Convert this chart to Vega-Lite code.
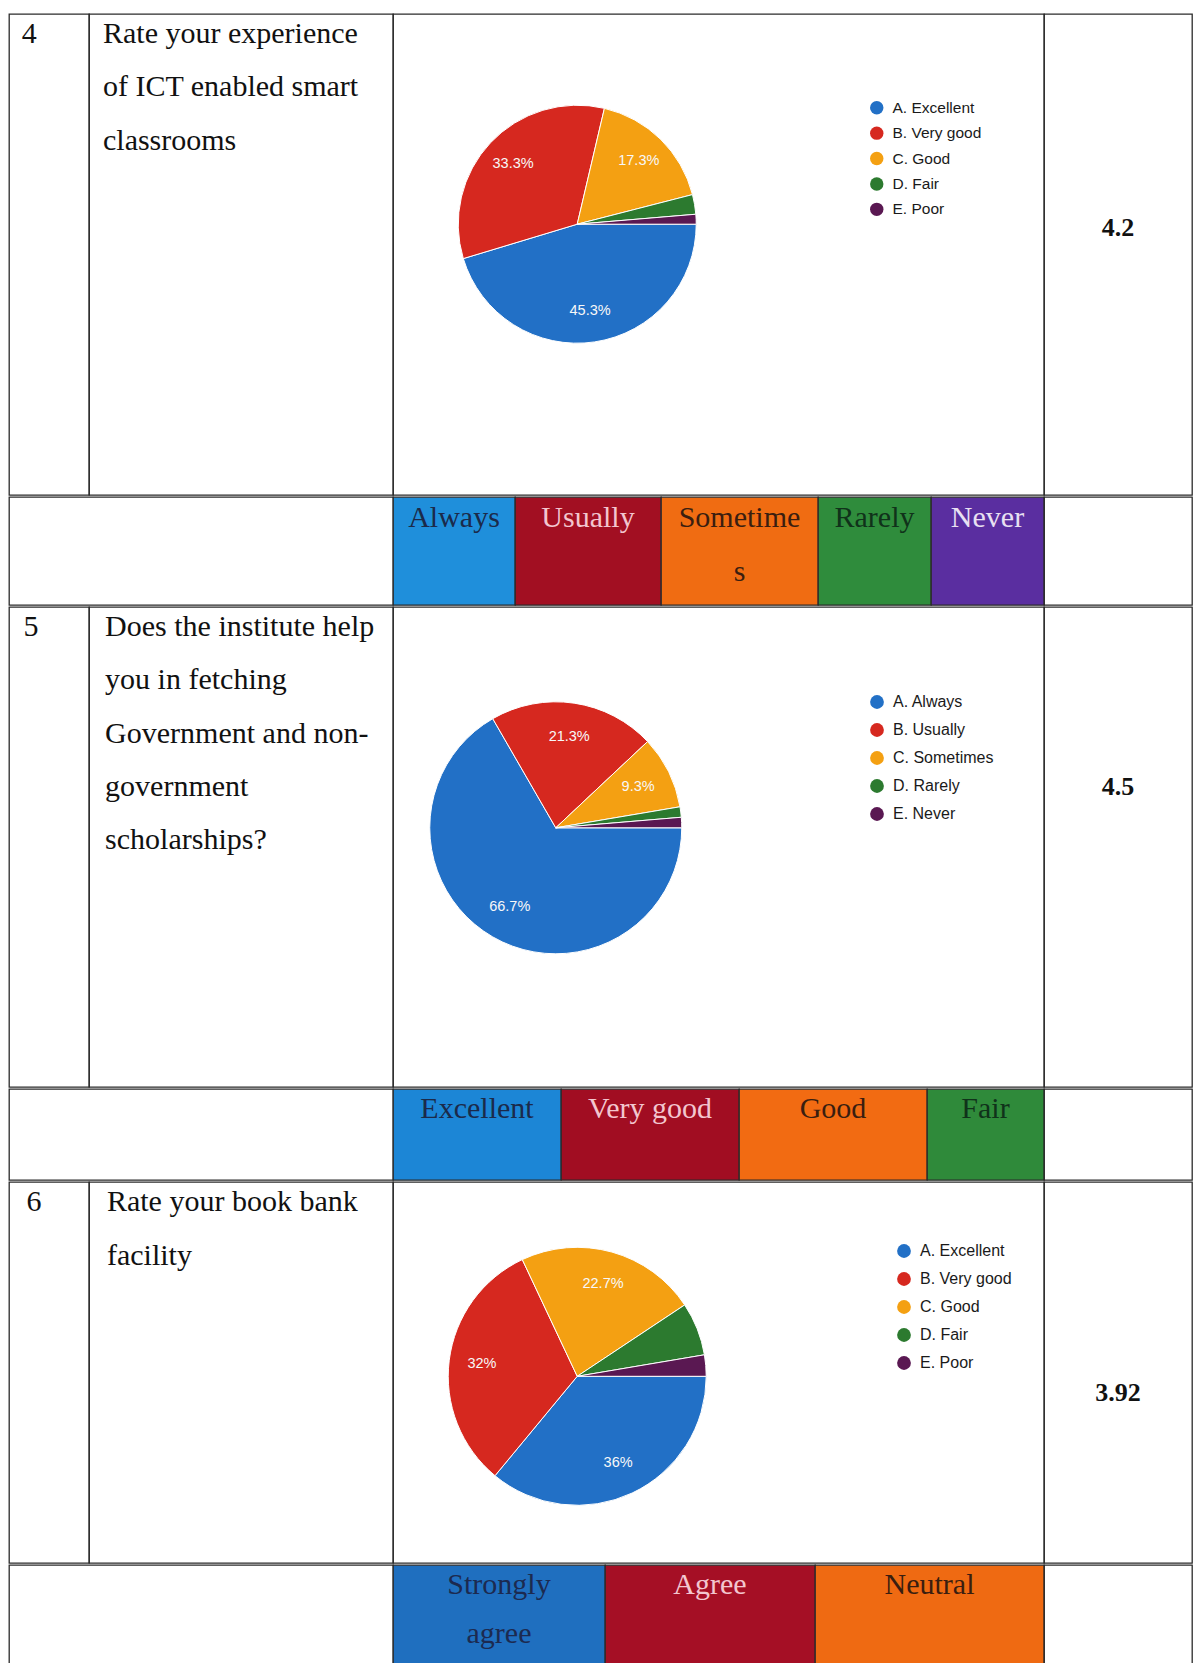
{
  "$schema": "https://vega.github.io/schema/vega-lite/v6.json",
  "background": "white",
  "padding": {"left": 8, "top": 13, "right": 0, "bottom": 0},
  "spacing": 0,
  "resolve": {"scale": {"color": "independent", "theta": "independent"}, "legend": {"color": "independent"}},
  "config": {
    "view": {"stroke": "#2b2b2b", "strokeWidth": 1.3},
    "concat": {"spacing": 0}
  },
  "datasets": {
    "cells": [
      {"q": "Q4", "col": "num", "line": 1, "text": "4"},
      {"q": "Q4", "col": "question", "line": 1, "text": "Rate your experience"},
      {"q": "Q4", "col": "question", "line": 2, "text": "of ICT enabled smart"},
      {"q": "Q4", "col": "question", "line": 3, "text": "classrooms"},
      {"q": "Q4", "col": "score", "line": 1, "text": "4.2"},
      {"q": "Q5", "col": "num", "line": 1, "text": "5"},
      {"q": "Q5", "col": "question", "line": 1, "text": "Does the institute help"},
      {"q": "Q5", "col": "question", "line": 2, "text": "you in fetching"},
      {"q": "Q5", "col": "question", "line": 3, "text": "Government and non-"},
      {"q": "Q5", "col": "question", "line": 4, "text": "government"},
      {"q": "Q5", "col": "question", "line": 5, "text": "scholarships?"},
      {"q": "Q5", "col": "score", "line": 1, "text": "4.5"},
      {"q": "Q6", "col": "num", "line": 1, "text": "6"},
      {"q": "Q6", "col": "question", "line": 1, "text": "Rate your book bank"},
      {"q": "Q6", "col": "question", "line": 2, "text": "facility"},
      {"q": "Q6", "col": "score", "line": 1, "text": "3.92"},
      {"q": "blank", "col": "blank", "line": 1, "text": ""}
    ],
    "bars": [
      {"bar": "h1", "cell": "Always", "line": 1, "text": "Always"},
      {"bar": "h1", "cell": "Usually", "line": 1, "text": "Usually"},
      {"bar": "h1", "cell": "Sometimes", "line": 1, "text": "Sometime"},
      {"bar": "h1", "cell": "Sometimes", "line": 2, "text": "s"},
      {"bar": "h1", "cell": "Rarely", "line": 1, "text": "Rarely"},
      {"bar": "h1", "cell": "Never", "line": 1, "text": "Never"},
      {"bar": "h2", "cell": "Excellent", "line": 1, "text": "Excellent"},
      {"bar": "h2", "cell": "Very good", "line": 1, "text": "Very good"},
      {"bar": "h2", "cell": "Good", "line": 1, "text": "Good"},
      {"bar": "h2", "cell": "Fair", "line": 1, "text": "Fair"},
      {"bar": "h3", "cell": "Strongly agree", "line": 1, "text": "Strongly"},
      {"bar": "h3", "cell": "Strongly agree", "line": 2, "text": "agree"},
      {"bar": "h3", "cell": "Agree", "line": 1, "text": "Agree"},
      {"bar": "h3", "cell": "Neutral", "line": 1, "text": "Neutral"}
    ],
    "p4": [
      {"q": "Q4", "opt": "A. Excellent", "n": 34, "label": "45.3%"},
      {"q": "Q4", "opt": "B. Very good", "n": 25, "label": "33.3%"},
      {"q": "Q4", "opt": "C. Good", "n": 13, "label": "17.3%"},
      {"q": "Q4", "opt": "D. Fair", "n": 2, "label": ""},
      {"q": "Q4", "opt": "E. Poor", "n": 1, "label": ""}
    ],
    "p5": [
      {"q": "Q5", "opt": "A. Always", "n": 50, "label": "66.7%"},
      {"q": "Q5", "opt": "B. Usually", "n": 16, "label": "21.3%"},
      {"q": "Q5", "opt": "C. Sometimes", "n": 7, "label": "9.3%"},
      {"q": "Q5", "opt": "D. Rarely", "n": 1, "label": ""},
      {"q": "Q5", "opt": "E. Never", "n": 1, "label": ""}
    ],
    "p6": [
      {"q": "Q6", "opt": "A. Excellent", "n": 27, "label": "36%"},
      {"q": "Q6", "opt": "B. Very good", "n": 24, "label": "32%"},
      {"q": "Q6", "opt": "C. Good", "n": 17, "label": "22.7%"},
      {"q": "Q6", "opt": "D. Fair", "n": 5, "label": ""},
      {"q": "Q6", "opt": "E. Poor", "n": 2, "label": ""}
    ]
  },
  "vconcat": [
    {
      "spacing": 0, "bounds": "flush",
      "resolve": {"scale": {"color": "independent"}},
      "hconcat": [
        {"width": 80, "height": 481, "data": {"name": "cells"},
          "transform": [{"filter": "datum.q == 'Q4' && datum.col == 'num'"}],
          "mark": {"type": "text", "font": "Liberation Serif", "fontSize": 30, "align": "left", "baseline": "middle", "color": "#111111"},
          "encoding": {
            "x": {"field": "q", "type": "nominal", "axis": null, "scale": {"type": "band", "paddingInner": 0, "paddingOuter": 0}, "bandPosition": 0.16},
            "y": {"field": "line", "type": "ordinal", "axis": null, "scale": {"type": "band", "domain": [1,2,3,4,5,6,7,8,9], "paddingInner": 0, "paddingOuter": 0}, "bandPosition": 0.375},
            "text": {"field": "text"}}},
        {"width": 304, "height": 481, "data": {"name": "cells"},
          "transform": [{"filter": "datum.q == 'Q4' && datum.col == 'question'"}],
          "mark": {"type": "text", "font": "Liberation Serif", "fontSize": 30, "align": "left", "baseline": "middle", "color": "#111111"},
          "encoding": {
            "x": {"field": "q", "type": "nominal", "axis": null, "scale": {"type": "band", "paddingInner": 0, "paddingOuter": 0}, "bandPosition": 0.046},
            "y": {"field": "line", "type": "ordinal", "axis": null, "scale": {"type": "band", "domain": [1,2,3,4,5,6,7,8,9], "paddingInner": 0, "paddingOuter": 0}, "bandPosition": 0.375},
            "text": {"field": "text"}}},
        {"width": 651, "height": 481, "data": {"name": "p4"},
          "encoding": {
            "x": {"field": "q", "type": "nominal", "axis": null, "scale": {"type": "band", "paddingInner": 0, "paddingOuter": 0}, "bandPosition": 0.283},
            "y": {"field": "q", "type": "nominal", "axis": null, "scale": {"type": "band", "paddingInner": 0, "paddingOuter": 0}, "bandPosition": 0.437},
            "theta": {"field": "n", "type": "quantitative", "stack": true, "scale": {"range": [1.5707963, 7.8539816]}},
            "order": {"field": "opt", "type": "nominal"},
            "color": {"field": "opt", "type": "nominal",
              "scale": {"range": ["#2270c6", "#d6281f", "#f4a012", "#2c7a2f", "#5a1852"]},
              "legend": {"orient": "none", "legendX": 476, "legendY": 86, "title": null, "symbolType": "circle", "symbolSize": 180, "symbolStrokeWidth": 0, "labelFont": "Liberation Sans", "labelFontSize": 15.5, "labelColor": "#1a1a1a", "rowPadding": 8.4, "labelOffset": 8}}
          },
          "layer": [
            {"mark": {"type": "arc", "radius": 119, "stroke": "#ffffff", "strokeWidth": 1}},
            {"mark": {"type": "text", "radius": 88, "font": "Liberation Sans", "fontSize": 14.5, "align": "center", "baseline": "middle"},
              "encoding": {"text": {"field": "label"}, "color": {"value": "#f8f8f8"}, "detail": {"field": "opt"}}}
          ]},
        {"width": 148, "height": 481, "data": {"name": "cells"},
          "transform": [{"filter": "datum.q == 'Q4' && datum.col == 'score'"}],
          "mark": {"type": "text", "font": "Liberation Serif", "fontSize": 26, "fontWeight": "bold", "align": "center", "baseline": "middle", "color": "#111111"},
          "encoding": {
            "y": {"field": "line", "type": "ordinal", "axis": null, "scale": {"type": "band", "domain": [1], "paddingInner": 0, "paddingOuter": 0}, "bandPosition": 0.445},
            "text": {"field": "text"}}}
      ]
    },
    {
      "spacing": 0, "bounds": "flush",
      "hconcat": [
        {"width": 384, "height": 108, "data": {"name": "cells"}, "transform": [{"filter": "datum.col == 'blank'"}],
          "mark": {"type": "text"}, "encoding": {"y": {"field": "line", "type": "ordinal", "axis": null, "scale": {"type": "band", "paddingInner": 0, "paddingOuter": 0}}, "text": {"field": "text"}}},
        {"width": 122, "height": 108, "view": {"fill": "#1f8fdb"}, "data": {"name": "bars"},
          "transform": [{"filter": "datum.cell == 'Always'"}],
          "mark": {"type": "text", "font": "Liberation Serif", "fontSize": 30, "align": "center", "baseline": "middle", "color": "#1b2a4a"},
          "encoding": {"y": {"field": "line", "type": "ordinal", "axis": null, "scale": {"type": "band", "domain": [1,2], "paddingInner": 0, "paddingOuter": 0}, "bandPosition": 0.385}, "text": {"field": "text"}}},
        {"width": 146, "height": 108, "view": {"fill": "#a20f22"}, "data": {"name": "bars"},
          "transform": [{"filter": "datum.cell == 'Usually'"}],
          "mark": {"type": "text", "font": "Liberation Serif", "fontSize": 30, "align": "center", "baseline": "middle", "color": "#f3c6cf"},
          "encoding": {"y": {"field": "line", "type": "ordinal", "axis": null, "scale": {"type": "band", "domain": [1,2], "paddingInner": 0, "paddingOuter": 0}, "bandPosition": 0.385}, "text": {"field": "text"}}},
        {"width": 157, "height": 108, "view": {"fill": "#f06c12"}, "data": {"name": "bars"},
          "transform": [{"filter": "datum.cell == 'Sometimes'"}],
          "mark": {"type": "text", "font": "Liberation Serif", "fontSize": 30, "align": "center", "baseline": "middle", "color": "#3a1e10"},
          "encoding": {"y": {"field": "line", "type": "ordinal", "axis": null, "scale": {"type": "band", "domain": [1,2], "paddingInner": 0, "paddingOuter": 0}, "bandPosition": 0.385}, "text": {"field": "text"}}},
        {"width": 113, "height": 108, "view": {"fill": "#2f8c3c"}, "data": {"name": "bars"},
          "transform": [{"filter": "datum.cell == 'Rarely'"}],
          "mark": {"type": "text", "font": "Liberation Serif", "fontSize": 30, "align": "center", "baseline": "middle", "color": "#10321a"},
          "encoding": {"y": {"field": "line", "type": "ordinal", "axis": null, "scale": {"type": "band", "domain": [1,2], "paddingInner": 0, "paddingOuter": 0}, "bandPosition": 0.385}, "text": {"field": "text"}}},
        {"width": 113, "height": 108, "view": {"fill": "#5a2ea0"}, "data": {"name": "bars"},
          "transform": [{"filter": "datum.cell == 'Never'"}],
          "mark": {"type": "text", "font": "Liberation Serif", "fontSize": 30, "align": "center", "baseline": "middle", "color": "#e8e0f2"},
          "encoding": {"y": {"field": "line", "type": "ordinal", "axis": null, "scale": {"type": "band", "domain": [1,2], "paddingInner": 0, "paddingOuter": 0}, "bandPosition": 0.385}, "text": {"field": "text"}}},
        {"width": 148, "height": 108, "data": {"name": "cells"}, "transform": [{"filter": "datum.col == 'blank'"}],
          "mark": {"type": "text"}, "encoding": {"y": {"field": "line", "type": "ordinal", "axis": null, "scale": {"type": "band", "paddingInner": 0, "paddingOuter": 0}}, "text": {"field": "text"}}}
      ]
    },
    {
      "spacing": 0, "bounds": "flush",
      "resolve": {"scale": {"color": "independent"}},
      "hconcat": [
        {"width": 80, "height": 480, "data": {"name": "cells"},
          "transform": [{"filter": "datum.q == 'Q5' && datum.col == 'num'"}],
          "mark": {"type": "text", "font": "Liberation Serif", "fontSize": 30, "align": "left", "baseline": "middle", "color": "#111111"},
          "encoding": {
            "x": {"field": "q", "type": "nominal", "axis": null, "scale": {"type": "band", "paddingInner": 0, "paddingOuter": 0}, "bandPosition": 0.18},
            "y": {"field": "line", "type": "ordinal", "axis": null, "scale": {"type": "band", "domain": [1,2,3,4,5,6,7,8,9], "paddingInner": 0, "paddingOuter": 0}, "bandPosition": 0.375},
            "text": {"field": "text"}}},
        {"width": 304, "height": 480, "data": {"name": "cells"},
          "transform": [{"filter": "datum.q == 'Q5' && datum.col == 'question'"}],
          "mark": {"type": "text", "font": "Liberation Serif", "fontSize": 30, "align": "left", "baseline": "middle", "color": "#111111"},
          "encoding": {
            "x": {"field": "q", "type": "nominal", "axis": null, "scale": {"type": "band", "paddingInner": 0, "paddingOuter": 0}, "bandPosition": 0.053},
            "y": {"field": "line", "type": "ordinal", "axis": null, "scale": {"type": "band", "domain": [1,2,3,4,5,6,7,8,9], "paddingInner": 0, "paddingOuter": 0}, "bandPosition": 0.375},
            "text": {"field": "text"}}},
        {"width": 651, "height": 480, "data": {"name": "p5"},
          "encoding": {
            "x": {"field": "q", "type": "nominal", "axis": null, "scale": {"type": "band", "paddingInner": 0, "paddingOuter": 0}, "bandPosition": 0.25},
            "y": {"field": "q", "type": "nominal", "axis": null, "scale": {"type": "band", "paddingInner": 0, "paddingOuter": 0}, "bandPosition": 0.46},
            "theta": {"field": "n", "type": "quantitative", "stack": true, "scale": {"range": [1.5707963, 7.8539816]}},
            "order": {"field": "opt", "type": "nominal"},
            "color": {"field": "opt", "type": "nominal",
              "scale": {"range": ["#2270c6", "#d6281f", "#f4a012", "#2c7a2f", "#5a1852"]},
              "legend": {"orient": "none", "legendX": 476, "legendY": 87, "title": null, "symbolType": "circle", "symbolSize": 190, "symbolStrokeWidth": 0, "labelFont": "Liberation Sans", "labelFontSize": 16, "labelColor": "#1a1a1a", "rowPadding": 12, "labelOffset": 8}}
          },
          "layer": [
            {"mark": {"type": "arc", "radius": 126, "stroke": "#ffffff", "strokeWidth": 1}},
            {"mark": {"type": "text", "radius": 92, "font": "Liberation Sans", "fontSize": 14.5, "align": "center", "baseline": "middle"},
              "encoding": {"text": {"field": "label"}, "color": {"value": "#f8f8f8"}, "detail": {"field": "opt"}}}
          ]},
        {"width": 148, "height": 480, "data": {"name": "cells"},
          "transform": [{"filter": "datum.q == 'Q5' && datum.col == 'score'"}],
          "mark": {"type": "text", "font": "Liberation Serif", "fontSize": 26, "fontWeight": "bold", "align": "center", "baseline": "middle", "color": "#111111"},
          "encoding": {
            "y": {"field": "line", "type": "ordinal", "axis": null, "scale": {"type": "band", "domain": [1], "paddingInner": 0, "paddingOuter": 0}, "bandPosition": 0.374},
            "text": {"field": "text"}}}
      ]
    },
    {
      "spacing": 0, "bounds": "flush",
      "hconcat": [
        {"width": 384, "height": 91, "data": {"name": "cells"}, "transform": [{"filter": "datum.col == 'blank'"}],
          "mark": {"type": "text"}, "encoding": {"y": {"field": "line", "type": "ordinal", "axis": null, "scale": {"type": "band", "paddingInner": 0, "paddingOuter": 0}}, "text": {"field": "text"}}},
        {"width": 168, "height": 91, "view": {"fill": "#1c86d6"}, "data": {"name": "bars"},
          "transform": [{"filter": "datum.cell == 'Excellent'"}],
          "mark": {"type": "text", "font": "Liberation Serif", "fontSize": 30, "align": "center", "baseline": "middle", "color": "#1b2a4a"},
          "encoding": {"y": {"field": "line", "type": "ordinal", "axis": null, "scale": {"type": "band", "domain": [1,2], "paddingInner": 0, "paddingOuter": 0}, "bandPosition": 0.435}, "text": {"field": "text"}}},
        {"width": 178, "height": 91, "view": {"fill": "#a10d22"}, "data": {"name": "bars"},
          "transform": [{"filter": "datum.cell == 'Very good'"}],
          "mark": {"type": "text", "font": "Liberation Serif", "fontSize": 30, "align": "center", "baseline": "middle", "color": "#f3c6cf"},
          "encoding": {"y": {"field": "line", "type": "ordinal", "axis": null, "scale": {"type": "band", "domain": [1,2], "paddingInner": 0, "paddingOuter": 0}, "bandPosition": 0.435}, "text": {"field": "text"}}},
        {"width": 188, "height": 91, "view": {"fill": "#f26b12"}, "data": {"name": "bars"},
          "transform": [{"filter": "datum.cell == 'Good'"}],
          "mark": {"type": "text", "font": "Liberation Serif", "fontSize": 30, "align": "center", "baseline": "middle", "color": "#3a1e10"},
          "encoding": {"y": {"field": "line", "type": "ordinal", "axis": null, "scale": {"type": "band", "domain": [1,2], "paddingInner": 0, "paddingOuter": 0}, "bandPosition": 0.435}, "text": {"field": "text"}}},
        {"width": 117, "height": 91, "view": {"fill": "#2f8a3a"}, "data": {"name": "bars"},
          "transform": [{"filter": "datum.cell == 'Fair'"}],
          "mark": {"type": "text", "font": "Liberation Serif", "fontSize": 30, "align": "center", "baseline": "middle", "color": "#10321a"},
          "encoding": {"y": {"field": "line", "type": "ordinal", "axis": null, "scale": {"type": "band", "domain": [1,2], "paddingInner": 0, "paddingOuter": 0}, "bandPosition": 0.435}, "text": {"field": "text"}}},
        {"width": 148, "height": 91, "data": {"name": "cells"}, "transform": [{"filter": "datum.col == 'blank'"}],
          "mark": {"type": "text"}, "encoding": {"y": {"field": "line", "type": "ordinal", "axis": null, "scale": {"type": "band", "paddingInner": 0, "paddingOuter": 0}}, "text": {"field": "text"}}}
      ]
    },
    {
      "spacing": 0, "bounds": "flush",
      "resolve": {"scale": {"color": "independent"}},
      "hconcat": [
        {"width": 80, "height": 381, "data": {"name": "cells"},
          "transform": [{"filter": "datum.q == 'Q6' && datum.col == 'num'"}],
          "mark": {"type": "text", "font": "Liberation Serif", "fontSize": 30, "align": "left", "baseline": "middle", "color": "#111111"},
          "encoding": {
            "x": {"field": "q", "type": "nominal", "axis": null, "scale": {"type": "band", "paddingInner": 0, "paddingOuter": 0}, "bandPosition": 0.22},
            "y": {"field": "line", "type": "ordinal", "axis": null, "scale": {"type": "band", "domain": [1,2,3,4,5,6,7], "paddingInner": 0, "paddingOuter": 0}, "bandPosition": 0.36},
            "text": {"field": "text"}}},
        {"width": 304, "height": 381, "data": {"name": "cells"},
          "transform": [{"filter": "datum.q == 'Q6' && datum.col == 'question'"}],
          "mark": {"type": "text", "font": "Liberation Serif", "fontSize": 30, "align": "left", "baseline": "middle", "color": "#111111"},
          "encoding": {
            "x": {"field": "q", "type": "nominal", "axis": null, "scale": {"type": "band", "paddingInner": 0, "paddingOuter": 0}, "bandPosition": 0.059},
            "y": {"field": "line", "type": "ordinal", "axis": null, "scale": {"type": "band", "domain": [1,2,3,4,5,6,7], "paddingInner": 0, "paddingOuter": 0}, "bandPosition": 0.36},
            "text": {"field": "text"}}},
        {"width": 651, "height": 381, "data": {"name": "p6"},
          "encoding": {
            "x": {"field": "q", "type": "nominal", "axis": null, "scale": {"type": "band", "paddingInner": 0, "paddingOuter": 0}, "bandPosition": 0.283},
            "y": {"field": "q", "type": "nominal", "axis": null, "scale": {"type": "band", "paddingInner": 0, "paddingOuter": 0}, "bandPosition": 0.51},
            "theta": {"field": "n", "type": "quantitative", "stack": true, "scale": {"range": [1.5707963, 7.8539816]}},
            "order": {"field": "opt", "type": "nominal"},
            "color": {"field": "opt", "type": "nominal",
              "scale": {"range": ["#2270c6", "#d6281f", "#f4a012", "#2c7a2f", "#5a1852"]},
              "legend": {"orient": "none", "legendX": 503, "legendY": 61, "title": null, "symbolType": "circle", "symbolSize": 190, "symbolStrokeWidth": 0, "labelFont": "Liberation Sans", "labelFontSize": 16, "labelColor": "#1a1a1a", "rowPadding": 12, "labelOffset": 8}}
          },
          "layer": [
            {"mark": {"type": "arc", "radius": 129, "stroke": "#ffffff", "strokeWidth": 1}},
            {"mark": {"type": "text", "radius": 96, "font": "Liberation Sans", "fontSize": 14.5, "align": "center", "baseline": "middle"},
              "encoding": {"text": {"field": "label"}, "color": {"value": "#f8f8f8"}, "detail": {"field": "opt"}}}
          ]},
        {"width": 148, "height": 381, "data": {"name": "cells"},
          "transform": [{"filter": "datum.q == 'Q6' && datum.col == 'score'"}],
          "mark": {"type": "text", "font": "Liberation Serif", "fontSize": 26, "fontWeight": "bold", "align": "center", "baseline": "middle", "color": "#111111"},
          "encoding": {
            "y": {"field": "line", "type": "ordinal", "axis": null, "scale": {"type": "band", "domain": [1], "paddingInner": 0, "paddingOuter": 0}, "bandPosition": 0.555},
            "text": {"field": "text"}}}
      ]
    },
    {
      "spacing": 0, "bounds": "flush",
      "hconcat": [
        {"width": 384, "height": 99, "data": {"name": "cells"}, "transform": [{"filter": "datum.col == 'blank'"}],
          "mark": {"type": "text"}, "encoding": {"y": {"field": "line", "type": "ordinal", "axis": null, "scale": {"type": "band", "paddingInner": 0, "paddingOuter": 0}}, "text": {"field": "text"}}},
        {"width": 212, "height": 99, "view": {"fill": "#1f6fbf"}, "data": {"name": "bars"},
          "transform": [{"filter": "datum.cell == 'Strongly agree'"}],
          "mark": {"type": "text", "font": "Liberation Serif", "fontSize": 30, "align": "center", "baseline": "middle", "color": "#1c2a50"},
          "encoding": {"y": {"field": "line", "type": "ordinal", "axis": null, "scale": {"type": "band", "domain": [1,2], "paddingInner": 0, "paddingOuter": 0}, "bandPosition": 0.4}, "text": {"field": "text"}}},
        {"width": 210, "height": 99, "view": {"fill": "#a50f25"}, "data": {"name": "bars"},
          "transform": [{"filter": "datum.cell == 'Agree'"}],
          "mark": {"type": "text", "font": "Liberation Serif", "fontSize": 30, "align": "center", "baseline": "middle", "color": "#f3c6cf"},
          "encoding": {"y": {"field": "line", "type": "ordinal", "axis": null, "scale": {"type": "band", "domain": [1,2], "paddingInner": 0, "paddingOuter": 0}, "bandPosition": 0.4}, "text": {"field": "text"}}},
        {"width": 229, "height": 99, "view": {"fill": "#ef6a12"}, "data": {"name": "bars"},
          "transform": [{"filter": "datum.cell == 'Neutral'"}],
          "mark": {"type": "text", "font": "Liberation Serif", "fontSize": 30, "align": "center", "baseline": "middle", "color": "#3a1e10"},
          "encoding": {"y": {"field": "line", "type": "ordinal", "axis": null, "scale": {"type": "band", "domain": [1,2], "paddingInner": 0, "paddingOuter": 0}, "bandPosition": 0.4}, "text": {"field": "text"}}},
        {"width": 148, "height": 99, "data": {"name": "cells"}, "transform": [{"filter": "datum.col == 'blank'"}],
          "mark": {"type": "text"}, "encoding": {"y": {"field": "line", "type": "ordinal", "axis": null, "scale": {"type": "band", "paddingInner": 0, "paddingOuter": 0}}, "text": {"field": "text"}}}
      ]
    }
  ]
}
